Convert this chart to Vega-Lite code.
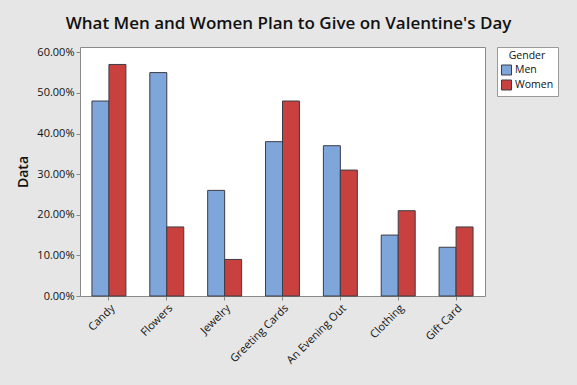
{
  "$schema": "https://vega.github.io/schema/vega-lite/v6.json",
  "autosize": "none",
  "width": 405,
  "height": 249,
  "padding": {"left": 80, "top": 47, "right": 92, "bottom": 89},
  "background": "#e6e6e6",
  "title": {
    "text": "What Men and Women Plan to Give on Valentine's Day",
    "anchor": "middle",
    "frame": "group",
    "fontSize": 17,
    "font": "Open Sans",
    "fontWeight": 600,
    "color": "#111111",
    "offset": 13,
    "dx": 6
  },
  "config": {
    "view": {"stroke": "#8a8a8a", "strokeWidth": 1, "fill": "white"},
    "font": "Open Sans"
  },
  "data": {
    "values": [
      {"Item": "Candy", "Gender": "Men", "Value": 0.48},
      {"Item": "Candy", "Gender": "Women", "Value": 0.57},
      {"Item": "Flowers", "Gender": "Men", "Value": 0.55},
      {"Item": "Flowers", "Gender": "Women", "Value": 0.17},
      {"Item": "Jewelry", "Gender": "Men", "Value": 0.26},
      {"Item": "Jewelry", "Gender": "Women", "Value": 0.09},
      {"Item": "Greeting Cards", "Gender": "Men", "Value": 0.38},
      {"Item": "Greeting Cards", "Gender": "Women", "Value": 0.48},
      {"Item": "An Evening Out", "Gender": "Men", "Value": 0.37},
      {"Item": "An Evening Out", "Gender": "Women", "Value": 0.31},
      {"Item": "Clothing", "Gender": "Men", "Value": 0.15},
      {"Item": "Clothing", "Gender": "Women", "Value": 0.21},
      {"Item": "Gift Card", "Gender": "Men", "Value": 0.12},
      {"Item": "Gift Card", "Gender": "Women", "Value": 0.17}
    ]
  },
  "mark": {"type": "bar", "stroke": "#3c3c46", "strokeWidth": 1},
  "encoding": {
    "x": {
      "field": "Item",
      "type": "nominal",
      "sort": null,
      "scale": {"paddingInner": 0.413, "paddingOuter": 0.2065},
      "axis": {
        "title": null,
        "labelAngle": -45,
        "labelAlign": "right",
        "labelBaseline": "top",
        "labelFontSize": 11,
        "labelColor": "#111111",
        "labelPadding": 2,
        "domain": false,
        "tickColor": "#8a8a8a",
        "tickSize": 4
      }
    },
    "xOffset": {"field": "Gender", "type": "nominal"},
    "y": {
      "field": "Value",
      "type": "quantitative",
      "scale": {"domain": [0, 0.613], "nice": false},
      "axis": {
        "title": "Data",
        "titleFontSize": 14,
        "titleFontWeight": 600,
        "titleColor": "#111111",
        "titlePadding": 6,
        "format": ".2%",
        "values": [0, 0.1, 0.2, 0.3, 0.4, 0.5, 0.6],
        "labelFontSize": 11,
        "labelColor": "#111111",
        "grid": false,
        "domain": false,
        "tickColor": "#8a8a8a",
        "tickSize": 4,
        "labelPadding": 2
      }
    },
    "fill": {
      "field": "Gender",
      "type": "nominal",
      "scale": {"domain": ["Men", "Women"], "range": ["#7ea6da", "#c8413e"]},
      "legend": {
        "orient": "none",
        "legendX": 417,
        "legendY": 0,
        "title": "Gender",
        "titleFontSize": 10.5,
        "titleFontWeight": "normal",
        "titleColor": "#111111",
        "titleAnchor": "middle",
        "titlePadding": 3,
        "labelFontSize": 10.5,
        "labelColor": "#111111",
        "symbolType": "square",
        "symbolSize": 100,
        "symbolStrokeColor": "#3c3c46",
        "symbolStrokeWidth": 1,
        "fillColor": "white",
        "strokeColor": "#9a9a9a",
        "padding": 4,
        "rowPadding": 0,
        "labelOffset": 3
      }
    }
  }
}
